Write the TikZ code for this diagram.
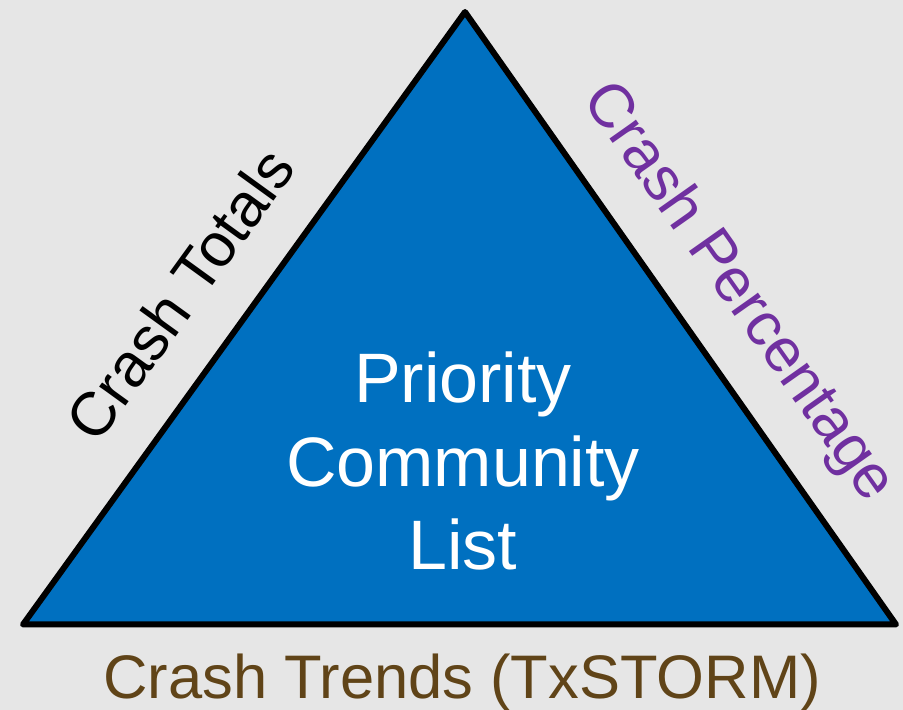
\documentclass[tikz,border=0pt]{standalone}
\usepackage{fontspec}
\setmainfont{Liberation Sans}
\definecolor{bg}{HTML}{E6E6E6}
\definecolor{triblue}{HTML}{0070C0}
\definecolor{cpurple}{HTML}{7030A0}
\definecolor{cbrown}{HTML}{604418}
\begin{document}
\begin{tikzpicture}[x=1pt,y=1pt,
  lbl/.style={inner sep=0pt,outer sep=0pt,font=\fontsize{61.5}{74}\selectfont},
  mid/.style={inner sep=0pt,outer sep=0pt,font=\fontsize{70}{83.5}\selectfont}]
\fill[bg] (0,0) rectangle (903,710);
\useasboundingbox (0,0) rectangle (903,710);
\coordinate (top) at (465,698);
\coordinate (bl) at (23,85.5);
\coordinate (br) at (896,85.5);
\filldraw[fill=triblue,draw=black,line width=6pt,line join=round] (top) -- (bl) -- (br) -- cycle;
\node[mid,text=white,align=center] (center) at (463,249) {Priority\\Community\\List};
\node[lbl,text=cbrown,anchor=base] (trends) at (462,11) {Crash Trends (TxSTORM)};
\node[lbl,text=black,rotate=54.1] (totals) at (180,416) {Crash Totals};
\node[lbl,text=cpurple,rotate=-54.8,text depth=0pt] (pct) at (743,421) {Crash Percentage};
\end{tikzpicture}
\end{document}
